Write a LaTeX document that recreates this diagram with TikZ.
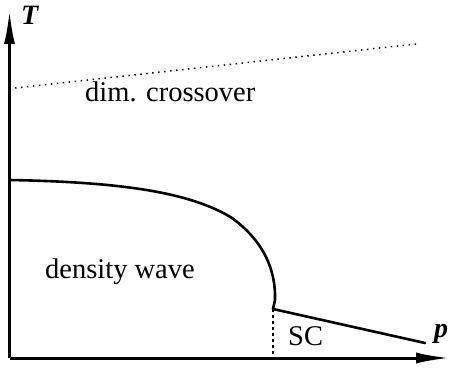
\documentclass[tikz,border=0pt]{standalone}
\usepackage{fontspec}
\setmainfont{Liberation Serif}
\usetikzlibrary{arrows.meta}
\begin{document}
\begin{tikzpicture}[x=1pt,y=-1pt,
  axis/.style={line width=3pt,-{Latex[length=34pt,width=11pt]}},
  bound/.style={line width=2.6pt,line cap=round,line join=round},
  lbl/.style={inner sep=0pt,anchor=base west,font=\fontsize{28.5}{30}\selectfont},
  axlbl/.style={inner sep=0pt,anchor=base west,font=\fontsize{28}{30}\selectfont\bfseries\itshape}]
\useasboundingbox (0,0) rectangle (450,369);
\coordinate (O) at (9.5,358);
\coordinate (Ttip) at (9.5,10);
\coordinate (ptip) at (450,358);
\coordinate (d1) at (15,88);
\coordinate (d2) at (416,44);
\coordinate (tc) at (9.5,180);
\coordinate (cp) at (273,309);
\coordinate (cpb) at (273,358);
\coordinate (sce) at (425,343);
% axes
\draw[axis] (O) -- (Ttip);
\draw[axis] (O) -- (ptip);
% dotted crossover
\draw[line width=1.5pt,dash pattern=on 1.5pt off 4.5pt] (d1) -- (d2);
% density wave boundary
\draw[bound] (tc) .. controls (120,182) and (190,192) .. (232,218)
  .. controls (262,240) and (276,268) .. (275,300) -- (cp);
% SC boundary
\draw[bound] (cp) -- (sce);
\draw[line width=2pt,dash pattern=on 3pt off 3pt] (cp) -- (cpb);
% labels
\node[axlbl] (T) at (21,25) {T};
\node[axlbl] (p) at (434,337) {p};
\node[lbl] (dc) at (85,102) {dim. crossover};
\node[lbl] (dw) at (45,278) {density wave};
\node[lbl] (sc) at (288,345) {SC};
\end{tikzpicture}
\end{document}
